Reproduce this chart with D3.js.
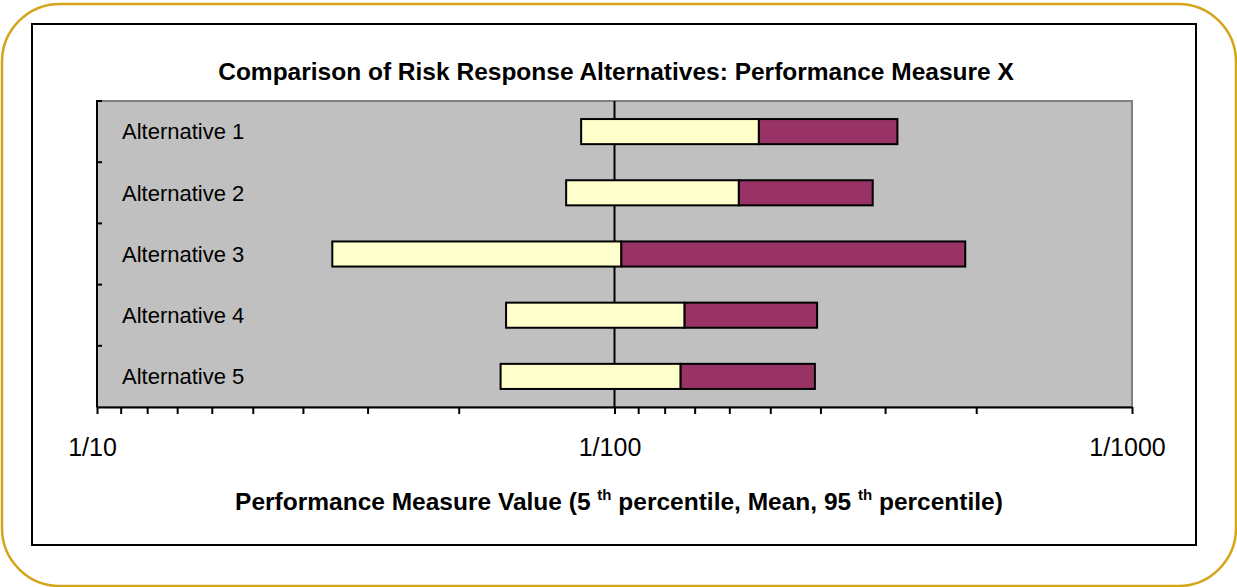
<!DOCTYPE html>
<html>
<head>
<meta charset="utf-8">
<script src="https://cdn.jsdelivr.net/npm/d3@7"></script>
<style>
  body { margin: 0; background: #fff; }
  svg { display: block; font-family: Arial, "Liberation Sans", sans-serif; }
</style>
</head>
<body>
<div id="chart"></div>
<script>
// values (probabilities, log axis runs 1/10 -> 1/1000)
const alternatives = ["Alternative 1", "Alternative 2", "Alternative 3", "Alternative 4", "Alternative 5"]
const p05 = [0.0116, 0.0124, 0.0351, 0.0162, 0.0166]
const means = [0.00526, 0.00575, 0.0097, 0.00732, 0.00745]
const p95 = [0.00284, 0.00317, 0.0021, 0.00406, 0.0041]
const majorTicks = [0.1, 0.01, 0.001]
const majorLabels = ["1/10", "1/100", "1/1000"]

const width = 1237
const height = 587
const plot = {left: 97, right: 1132, top: 101, bottom: 407}

const svg = d3.select("#chart")
  .append("svg")
  .attr("width", width)
  .attr("height", height)

// outer rounded gold border
svg.append("rect")
  .attr("x", 2).attr("y", 4)
  .attr("width", 1234).attr("height", 582)
  .attr("rx", 58).attr("ry", 58)
  .attr("fill", "none")
  .attr("stroke", "#d6a419")
  .attr("stroke-width", 2.5)

// chart frame
svg.append("rect")
  .attr("x", 32).attr("y", 24)
  .attr("width", 1164).attr("height", 521)
  .attr("fill", "#fff")
  .attr("stroke", "#000")
  .attr("stroke-width", 2)

const x = d3.scaleLog()
  .domain([0.1, 0.001])
  .range([plot.left, plot.right])

const y = d3.scaleBand()
  .domain(alternatives)
  .range([plot.top, plot.bottom])
  .paddingInner(0.59)
  .paddingOuter(0.295)

// plot area
svg.append("rect")
  .attr("x", plot.left).attr("y", plot.top)
  .attr("width", plot.right - plot.left)
  .attr("height", plot.bottom - plot.top)
  .attr("fill", "#c0c0c0")
  .attr("stroke", "#808080")
  .attr("stroke-width", 2)

// vertical axis crossing at 1/100
svg.append("line")
  .attr("x1", x(0.01)).attr("x2", x(0.01))
  .attr("y1", plot.top).attr("y2", plot.bottom)
  .attr("stroke", "#000")
  .attr("stroke-width", 2)

// left axis line with inside ticks on category boundaries
svg.append("line")
  .attr("x1", plot.left).attr("x2", plot.left)
  .attr("y1", plot.top - 1).attr("y2", plot.bottom)
  .attr("stroke", "#000")
  .attr("stroke-width", 2)

const bounds = alternatives.map(d => y(d) + y.bandwidth() / 2 - y.step() / 2)
svg.append("g")
  .selectAll("line")
  .data(bounds)
  .join("line")
    .attr("x1", plot.left).attr("x2", plot.left + 5)
    .attr("y1", d => d).attr("y2", d => d)
    .attr("stroke", "#000")
    .attr("stroke-width", 2)

// bars: 5th percentile -> mean -> 95th percentile
const rows = alternatives.map((name, i) => ({name, lo: p05[i], mid: means[i], hi: p95[i]}))

const bar = svg.append("g")
  .selectAll("g")
  .data(rows)
  .join("g")

bar.append("rect")
  .attr("x", d => x(d.lo))
  .attr("y", d => y(d.name))
  .attr("width", d => x(d.mid) - x(d.lo))
  .attr("height", y.bandwidth())
  .attr("fill", "#ffffcc")
  .attr("stroke", "#000")
  .attr("stroke-width", 2)

bar.append("rect")
  .attr("x", d => x(d.mid))
  .attr("y", d => y(d.name))
  .attr("width", d => x(d.hi) - x(d.mid))
  .attr("height", y.bandwidth())
  .attr("fill", "#993366")
  .attr("stroke", "#000")
  .attr("stroke-width", 2)

// category labels sit inside the plot
svg.append("g")
  .selectAll("text")
  .data(alternatives)
  .join("text")
    .attr("x", plot.left + 25)
    .attr("y", d => y(d) + y.bandwidth() / 2)
    .attr("dy", "0.35em")
    .attr("font-size", 22)
    .attr("fill", "#000")
    .text(d => d)

// bottom log axis
const xAxis = d3.axisBottom(x)
  .tickSize(7)
  .tickSizeOuter(0)
  .tickPadding(24)
  .tickFormat(d => {
    const i = majorTicks.findIndex(m => Math.abs(m - d) / m < 1e-6)
    return i >= 0 ? majorLabels[i] : ""
  })

const gx = svg.append("g")
  .attr("transform", `translate(0,${plot.bottom})`)
  .call(xAxis)

gx.select(".domain")
  .attr("stroke", "#000")
  .attr("stroke-width", 2)
gx.selectAll(".tick line")
  .attr("stroke", "#000")
  .attr("stroke-width", 2)
gx.selectAll(".tick text")
  .attr("font-family", "Arial, 'Liberation Sans', sans-serif")
  .attr("font-size", 25)
  .attr("dx", -5)
  .attr("fill", "#000")

// title
svg.append("text")
  .attr("x", 616)
  .attr("y", 80)
  .attr("text-anchor", "middle")
  .attr("font-size", 24.5)
  .attr("font-weight", "bold")
  .text("Comparison of Risk Response Alternatives: Performance Measure X")

// x axis title with superscripts
const xt = svg.append("text")
  .attr("x", 619)
  .attr("y", 510)
  .attr("text-anchor", "middle")
  .attr("font-size", 24.5)
  .attr("font-weight", "bold")

xt.append("tspan").text("Performance Measure Value (5 ")
xt.append("tspan").attr("font-size", 15).attr("dy", -10).text("th")
xt.append("tspan").attr("dy", 10).text(" percentile, Mean, 95 ")
xt.append("tspan").attr("font-size", 15).attr("dy", -10).text("th")
xt.append("tspan").attr("dy", 10).text(" percentile)")
</script>
</body>
</html>
